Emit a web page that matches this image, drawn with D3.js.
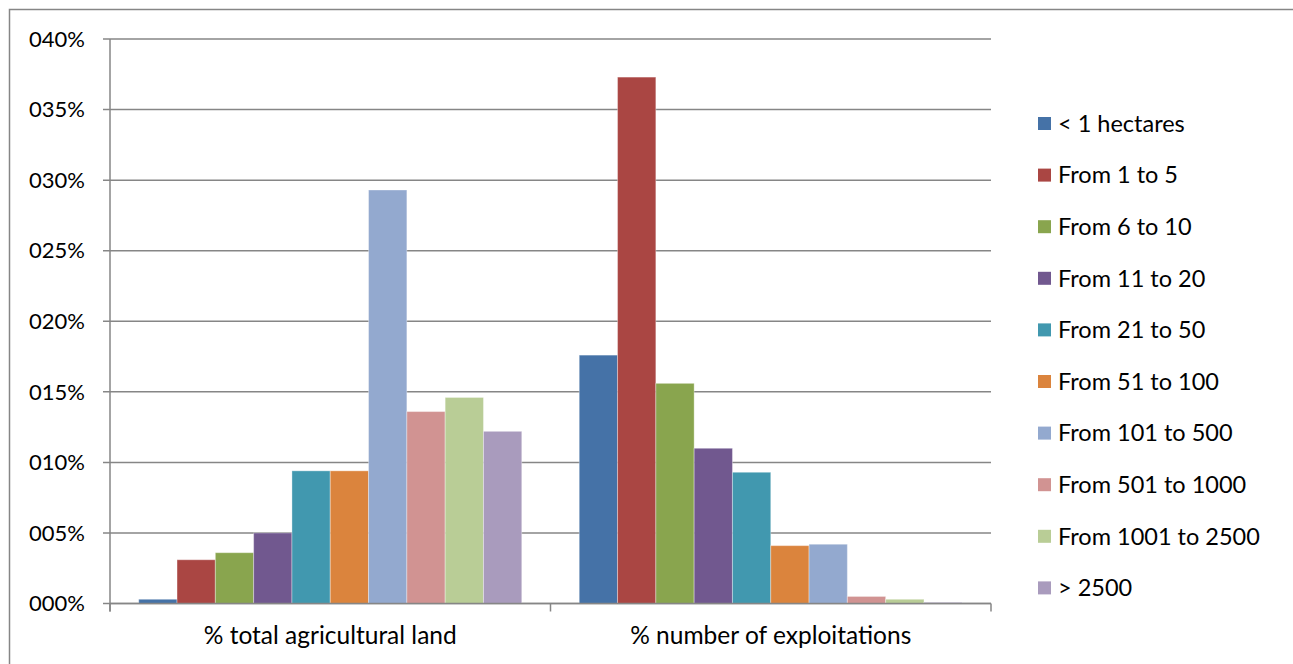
<!DOCTYPE html>
<html>
<head>
<meta charset="utf-8">
<script src="https://cdn.jsdelivr.net/npm/d3@7"></script>
<style>
  html, body { margin: 0; padding: 0; background: #fff; }
  svg { display: block; }
  text { font-family: Lato, "Liberation Sans", sans-serif; fill: #000; }
</style>
</head>
<body>
<svg id="chart" width="1293" height="664"></svg>
<script>
const categories = ["% total agricultural land", "% number of exploitations"];
const seriesNames = ["< 1 hectares", "From 1 to 5", "From 6 to 10", "From 11 to 20", "From 21 to 50",
  "From 51 to 100", "From 101 to 500", "From 501 to 1000", "From 1001 to 2500", "> 2500"];
const seriesColors = ["#4572A7", "#AA4643", "#89A54E", "#71588F", "#4198AF",
  "#DB843D", "#93A9CF", "#D19392", "#B9CD96", "#A99BBD"];
// values in % for each series: [agricultural land, number of exploitations]
const landValues = [0.3, 3.1, 3.6, 5.0, 9.4, 9.4, 29.3, 13.6, 14.6, 12.2];
const exploitValues = [17.6, 37.3, 15.6, 11.0, 9.3, 4.1, 4.2, 0.5, 0.3, 0.08];
const yTicks = [0, 5, 10, 15, 20, 25, 30, 35, 40];
const yTickLabels = ["000%", "005%", "010%", "015%", "020%", "025%", "030%", "035%", "040%"];

const svg = d3.select("#chart");

// outer chart border
svg.append("rect").attr("x", 9.5).attr("y", 9.5).attr("width", 1400).attr("height", 800)
  .attr("fill", "none").attr("stroke", "#868686").attr("stroke-width", 1.5);

const plot = { left: 110, right: 991, top: 39, bottom: 603.5 };

const x0 = d3.scaleBand().domain(categories).range([plot.left, plot.right]).paddingInner(0).paddingOuter(0);
const x1 = d3.scaleBand().domain(seriesNames).range([0, x0.bandwidth()])
  .paddingInner(0).paddingOuter(0.75);
const y = d3.scaleLinear().domain([0, 40]).range([plot.bottom, plot.top]);

// gridlines
svg.append("g").selectAll("line").data(yTicks).join("line")
  .attr("x1", plot.left - 7).attr("x2", plot.right)
  .attr("y1", d => y(d)).attr("y2", d => y(d))
  .attr("stroke", "#868686").attr("stroke-width", 1.5);

// y axis line
svg.append("line").attr("x1", plot.left).attr("x2", plot.left)
  .attr("y1", plot.top).attr("y2", plot.bottom + 8)
  .attr("stroke", "#868686").attr("stroke-width", 1.5);

// y tick labels
svg.append("g").selectAll("text").data(yTicks).join("text")
  .attr("x", 85).attr("y", d => y(d)).attr("dy", "0.35em")
  .attr("text-anchor", "end").attr("font-size", 22)
  .text((d, i) => yTickLabels[i]);

// bars
const barData = [];
seriesNames.forEach((s, i) => {
  barData.push({ cat: categories[0], s, v: landValues[i], c: seriesColors[i] });
  barData.push({ cat: categories[1], s, v: exploitValues[i], c: seriesColors[i] });
});
svg.append("g").selectAll("rect").data(barData).join("rect")
  .attr("x", d => x0(d.cat) + x1(d.s))
  .attr("width", x1.bandwidth())
  .attr("y", d => y(d.v))
  .attr("height", d => plot.bottom - y(d.v))
  .attr("fill", d => d.c)
  .attr("stroke", "rgba(255,255,255,0.35)").attr("stroke-width", 1);

// x axis line
svg.append("line").attr("x1", plot.left).attr("x2", plot.right)
  .attr("y1", plot.bottom).attr("y2", plot.bottom)
  .attr("stroke", "#868686").attr("stroke-width", 1.5);
// x ticks at category boundaries
const xTickPos = [plot.left, x0(categories[1]), plot.right];
svg.append("g").selectAll("line").data(xTickPos).join("line")
  .attr("x1", d => d).attr("x2", d => d)
  .attr("y1", plot.bottom).attr("y2", plot.bottom + 8)
  .attr("stroke", "#868686").attr("stroke-width", 1.5);

// category labels
svg.append("g").selectAll("text").data(categories).join("text")
  .attr("x", d => x0(d) + x0.bandwidth() / 2).attr("y", 644)
  .attr("text-anchor", "middle").attr("font-size", 24.5)
  .text(d => d);

// legend
const legend = svg.append("g").selectAll("g").data(seriesNames).join("g")
  .attr("transform", (d, i) => `translate(1038, ${123.5 + i * 51.6})`);
legend.append("rect").attr("x", 0).attr("y", -6.5).attr("width", 13).attr("height", 13)
  .attr("fill", (d, i) => seriesColors[i]);
legend.append("text").attr("x", 20).attr("y", 0).attr("dy", "0.35em")
  .attr("font-size", 23.5).text(d => d);
</script>
</body>
</html>
